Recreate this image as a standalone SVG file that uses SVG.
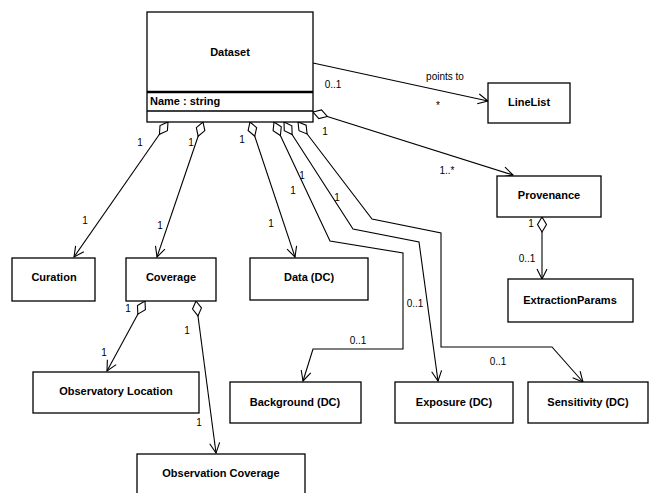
<svg xmlns="http://www.w3.org/2000/svg" width="650" height="493" viewBox="0 0 650 493">
<style>
.box{fill:#fff;stroke:#000;stroke-width:1.3}
.name{font-family:"Liberation Sans",Arial,sans-serif;font-weight:bold;font-size:11px;text-anchor:middle;fill:#000}
.attr{font-family:"Liberation Sans",Arial,sans-serif;font-weight:bold;font-size:11px;fill:#000}
.lbl{font-family:"Liberation Sans",Arial,sans-serif;font-size:10px;text-anchor:middle;fill:#000}
.c{fill:none;stroke:#000;stroke-width:1.1;marker-end:url(#arr)}
.a{marker-start:url(#dia)}
</style>
<defs>
<marker id="dia" markerUnits="userSpaceOnUse" markerWidth="20" markerHeight="12" refX="0" refY="0" viewBox="-1 -6 18 12" orient="auto" overflow="visible">
<path d="M0,0 L7.5,-4.5 L15,0 L7.5,4.5 Z" fill="#fff" stroke="#000" stroke-width="1.1"/>
</marker>
<marker id="arr" markerUnits="userSpaceOnUse" markerWidth="14" markerHeight="14" refX="0" refY="0" viewBox="-12 -7 14 14" orient="auto" overflow="visible">
<path d="M-10,-5 L0,0 L-10,5" fill="none" stroke="#000" stroke-width="1.1"/>
</marker>
</defs>

<g id="connectors">
<path class="c" d="M313,63 L488,101"/>
<path class="c a" d="M313,112 L513,175"/>
<path class="c a" d="M542,217 L542,279"/>
<path class="c a" d="M168,122 L74,257"/>
<path class="c a" d="M203,122 L157,257"/>
<path class="c a" d="M250,122 L295,257"/>
<path class="c a" d="M274,122 L330,241 L403,253 L403,349 L313,349 L303,381"/>
<path class="c a" d="M284,122 L353,229 L419,242 L438,381"/>
<path class="c a" d="M298,122 L372,219 L441,233 L441,347 L552,347 L583,382"/>
<path class="c a" d="M145,301 L107,371"/>
<path class="c a" d="M196,301 L216,453"/>
</g>

<g id="labels">
<text class="lbl" x="445" y="80">points to</text>
<text class="lbl" x="333" y="88">0..1</text>
<text class="lbl" x="438" y="109">*</text>
<text class="lbl" x="325" y="135">1</text>
<text class="lbl" x="447" y="174">1..*</text>
<text class="lbl" x="531" y="227">1</text>
<text class="lbl" x="527" y="262">0..1</text>
<text class="lbl" x="140" y="146">1</text>
<text class="lbl" x="85" y="224">1</text>
<text class="lbl" x="191" y="146">1</text>
<text class="lbl" x="160" y="229">1</text>
<text class="lbl" x="242" y="143">1</text>
<text class="lbl" x="271" y="227">1</text>
<text class="lbl" x="293" y="194">1</text>
<text class="lbl" x="358" y="344">0..1</text>
<text class="lbl" x="302" y="179">1</text>
<text class="lbl" x="415" y="307">0..1</text>
<text class="lbl" x="337" y="201">1</text>
<text class="lbl" x="498" y="365">0..1</text>
<text class="lbl" x="128" y="312">1</text>
<text class="lbl" x="104" y="356">1</text>
<text class="lbl" x="187" y="334">1</text>
<text class="lbl" x="199" y="426">1</text>
</g>

<g id="dataset">
<rect class="box" x="147" y="12" width="166" height="110"/>
<line x1="147" y1="92" x2="313" y2="92" stroke="#000" stroke-width="2.5"/>
<line x1="147" y1="111" x2="313" y2="111" stroke="#000" stroke-width="1.3"/>
<text class="name" x="230" y="56">Dataset</text>
<text class="attr" x="150" y="105">Name : string</text>
</g>
<g id="linelist">
<rect class="box" x="488" y="83" width="82" height="40"/>
<text class="name" x="529" y="106">LineList</text>
</g>
<g id="provenance">
<rect class="box" x="497" y="176" width="104" height="41"/>
<text class="name" x="549" y="199">Provenance</text>
</g>
<g id="extractionparams">
<rect class="box" x="508" y="279" width="125" height="43"/>
<text class="name" x="570" y="304">ExtractionParams</text>
</g>
<g id="curation">
<rect class="box" x="12" y="258" width="83" height="43"/>
<text class="name" x="54" y="281">Curation</text>
</g>
<g id="coverage">
<rect class="box" x="126" y="258" width="90" height="43"/>
<text class="name" x="171" y="281">Coverage</text>
</g>
<g id="data">
<rect class="box" x="250" y="258" width="118" height="42"/>
<text class="name" x="309" y="281">Data (DC)</text>
</g>
<g id="observatorylocation">
<rect class="box" x="33" y="372" width="166" height="41"/>
<text class="name" x="116" y="395">Observatory Location</text>
</g>
<g id="observationcoverage">
<rect class="box" x="137" y="454" width="168" height="40"/>
<text class="name" x="221" y="477">Observation Coverage</text>
</g>
<g id="background">
<rect class="box" x="230" y="382" width="131" height="41"/>
<text class="name" x="295" y="406">Background (DC)</text>
</g>
<g id="exposure">
<rect class="box" x="395" y="382" width="118" height="41"/>
<text class="name" x="454" y="406">Exposure (DC)</text>
</g>
<g id="sensitivity">
<rect class="box" x="528" y="382" width="120" height="41"/>
<text class="name" x="588" y="406">Sensitivity (DC)</text>
</g>
</svg>
